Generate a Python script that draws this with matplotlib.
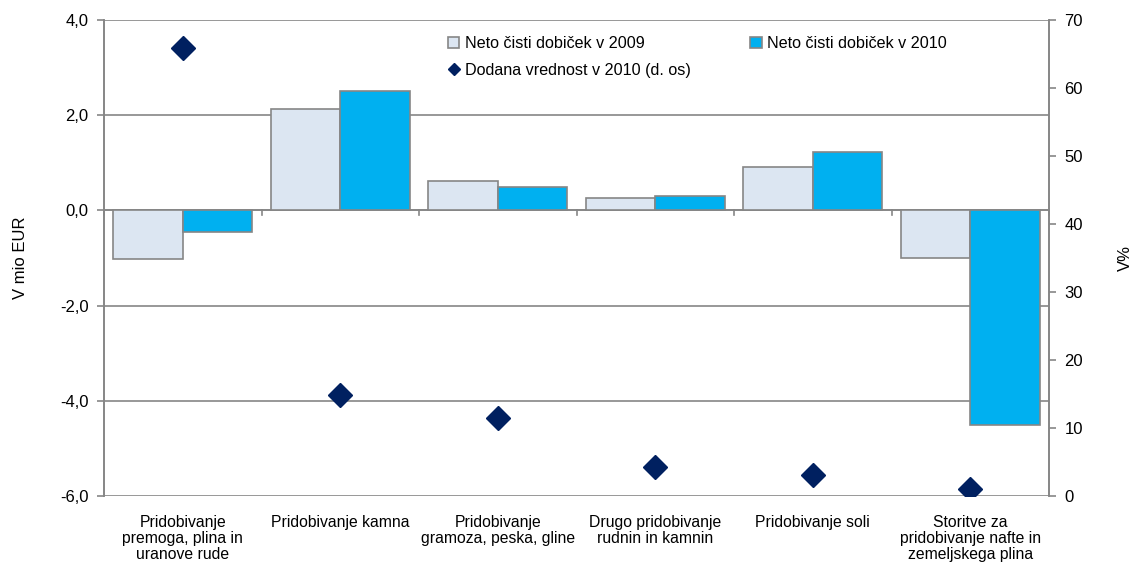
import matplotlib
matplotlib.use("Agg")
import matplotlib.pyplot as plt
import numpy as np
from matplotlib.ticker import FuncFormatter
from matplotlib.lines import Line2D

plt.rcParams['font.family'] = ['Liberation Sans', 'DejaVu Sans']

categories = ["Pridobivanje\npremoga, plina in\nuranove rude",
              "Pridobivanje kamna",
              "Pridobivanje\ngramoza, peska, gline",
              "Drugo pridobivanje\nrudnin in kamnin",
              "Pridobivanje soli",
              "Storitve za\npridobivanje nafte in\nzemeljskega plina"]
profit_2009 = [-1.03, 2.12, 0.61, 0.27, 0.92, -1.01]
profit_2010 = [-0.46, 2.50, 0.50, 0.31, 1.22, -4.50]
value_added_2010 = [65.9, 14.8, 11.5, 4.3, 3.1, 1.0]

label_2009 = "Neto čisti dobiček v 2009"
label_2010 = "Neto čisti dobiček v 2010"
label_va = "Dodana vrednost v 2010 (d. os)"

gray = "#868686"
navy = "#002060"
fig = plt.figure(figsize=(11.32, 5.62), dpi=100)
ax = fig.add_axes([104/1132, 1-496/562, (1049-104)/1132, (496-20)/562])
ax2 = ax.twinx()

x = np.arange(len(categories))
w = 0.44
b1 = ax.bar(x - w/2, profit_2009, w, color="#DCE6F2", edgecolor=gray, linewidth=1.2, zorder=3, label=label_2009)
b2 = ax.bar(x + w/2, profit_2010, w, color="#00B0F0", edgecolor=gray, linewidth=1.2, zorder=3, label=label_2010)
ln, = ax2.plot(x, value_added_2010, linestyle="none", marker="D", markersize=12.5,
               color=navy, label=label_va, zorder=4)

ax.set_xlim(-0.5, len(categories) - 0.5)
ax.set_ylim(-6, 4)
ax.set_yticks(np.arange(-6, 4.01, 2))
ax.yaxis.set_major_formatter(FuncFormatter(lambda v, p: f"{v:.1f}".replace(".", ",")))
ax2.set_ylim(0, 70)
ax2.set_yticks(np.arange(0, 71, 10))

ax.grid(axis="y", color=gray, linewidth=1.2, zorder=0)
ax.set_axisbelow(True)

for a in (ax, ax2):
    for s in a.spines.values():
        s.set_color(gray)
        s.set_linewidth(1.2)
ax.spines['top'].set_visible(False)
ax2.spines['top'].set_visible(False)
ax.spines['bottom'].set_visible(False)
ax2.spines['bottom'].set_visible(False)

# zero axis line with category boundary ticks
ax.axhline(0, color=gray, linewidth=1.2, zorder=2)
for b in np.arange(-0.5, len(categories) + 0.5, 1):
    ax.plot([b, b], [0, -0.1], color=gray, linewidth=1.2, zorder=2, clip_on=False)

ax.set_xticks(x)
ax.set_xticklabels(categories, fontsize=11.3, linespacing=1.05, va="top")
ax.tick_params(axis="x", length=0, pad=14)
ax.tick_params(axis="y", labelsize=12, color=gray, length=5, width=1.2, pad=6)
ax2.tick_params(axis="y", labelsize=12, color=gray, length=5, width=1.2, pad=6)

ax.set_ylabel("V mio EUR", fontsize=12, labelpad=23)
ax2.set_ylabel("V%", fontsize=12, labelpad=25)

va_handle = Line2D([], [], linestyle="none", marker="D", markersize=6, color=navy)
leg = ax.legend([b1, va_handle, b2], [label_2009, label_va, label_2010], ncol=2,
                loc="upper left", bbox_to_anchor=(0.352, 0.99), frameon=False,
                fontsize=11.6, handlelength=0.7, handleheight=0.7, handletextpad=0.35,
                columnspacing=3.7, borderaxespad=0.3, labelspacing=0.75)

fig.savefig("out.png", dpi=100)
